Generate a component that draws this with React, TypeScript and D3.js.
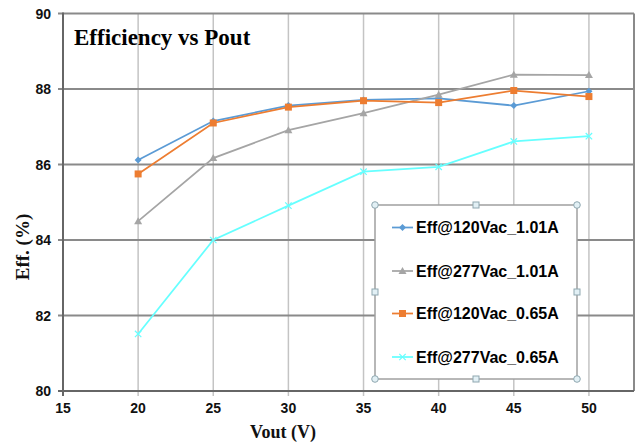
import React from "react";
import * as d3 from "d3";

const vout = [20, 25, 30, 35, 40, 45, 50];
const eff120_101 = [86.12, 87.15, 87.56, 87.71, 87.75, 87.56, 87.94];
const eff277_101 = [84.5, 86.17, 86.91, 87.36, 87.85, 88.38, 88.37];
const eff120_065 = [85.75, 87.1, 87.52, 87.69, 87.64, 87.96, 87.8];
const eff277_065 = [81.51, 84.0, 84.91, 85.81, 85.94, 86.61, 86.75];
const seriesNames = ["Eff@120Vac_1.01A", "Eff@277Vac_1.01A", "Eff@120Vac_0.65A", "Eff@277Vac_0.65A"];
const xTicks = [15, 20, 25, 30, 35, 40, 45, 50];
const yTicks = [80, 82, 84, 86, 88, 90];

const W = 636, H = 448;
const L = 63, R = 634, T = 13.5, B = 391;

const series = [
  { name: seriesNames[0], values: eff120_101, color: "#5b9bd5", marker: "diamond" },
  { name: seriesNames[1], values: eff277_101, color: "#a5a5a5", marker: "triangle" },
  { name: seriesNames[2], values: eff120_065, color: "#ed7d31", marker: "square" },
  { name: seriesNames[3], values: eff277_065, color: "#66ffff", marker: "x" },
];

function Marker({ type, x, y, color }: { type: string; x: number; y: number; color: string }) {
  if (type === "diamond") {
    const s = 3.5;
    return <path d={`M${x},${y - s}L${x + s},${y}L${x},${y + s}L${x - s},${y}Z`} fill={color} />;
  }
  if (type === "square") {
    const s = 3.5;
    return <rect x={x - s} y={y - s} width={2 * s} height={2 * s} fill={color} />;
  }
  if (type === "triangle") {
    const s = 4;
    return <path d={`M${x},${y - s}L${x + s},${y + s * 0.75}L${x - s},${y + s * 0.75}Z`} fill={color} />;
  }
  const s = 3.2;
  return (
    <path d={`M${x - s},${y - s}L${x + s},${y + s}M${x - s},${y + s}L${x + s},${y - s}`} stroke={color} strokeWidth={1.2} />
  );
}

export default function App() {
  const x = d3.scaleLinear().domain([15, 53]).range([L, R]);
  const y = d3.scaleLinear().domain([80, 90]).range([B, T]);
  const line = d3
    .line<[number, number]>()
    .x((d) => x(d[0]))
    .y((d) => y(d[1]));

  const lg = { x0: 375, x1: 577, y0: 205, y1: 379 };
  const legendYs = [227.5, 271, 313.5, 357];
  const sansBold = { fontFamily: "'Liberation Sans', Arial, sans-serif", fontWeight: 700 } as const;
  const serifBold = { fontFamily: "'Liberation Serif', 'Times New Roman', serif", fontWeight: 700 } as const;

  const handleCircles = [
    [lg.x0, lg.y0], [lg.x1, lg.y0], [lg.x0, lg.y1], [lg.x1, lg.y1],
  ];
  const handleSquares = [
    [(lg.x0 + lg.x1) / 2, lg.y0], [(lg.x0 + lg.x1) / 2, lg.y1], [lg.x0, (lg.y0 + lg.y1) / 2], [lg.x1, (lg.y0 + lg.y1) / 2],
  ];

  return (
    <div style={{ position: "fixed", left: 0, top: 0 }}>
      <svg width={W} height={H} style={{ display: "block", background: "#fff" }}>
        <rect x={0} y={0} width={W} height={H} fill="#fff" />
        {/* vertical grid */}
        {xTicks.filter((t) => t !== 15).map((t) => (
          <line key={"vg" + t} x1={x(t)} x2={x(t)} y1={T} y2={B + 5} stroke="#c4c4c4" strokeWidth={1.5} />
        ))}
        {/* horizontal grid */}
        {yTicks.filter((t) => t !== 80 && t !== 90).map((t) => (
          <line key={"hg" + t} x1={L - 5} x2={R} y1={y(t)} y2={y(t)} stroke="#8a8a8a" strokeWidth={2} />
        ))}
        {/* frame */}
        <line x1={L - 5} x2={R} y1={T} y2={T} stroke="#8a8a8a" strokeWidth={2} />
        <line x1={R} x2={R} y1={T} y2={B} stroke="#8a8a8a" strokeWidth={2} />
        <line x1={L - 5} x2={R} y1={B} y2={B} stroke="#666" strokeWidth={2} />
        <line x1={L} x2={L} y1={T - 1} y2={B + 5} stroke="#666" strokeWidth={2} />
        {/* y tick labels */}
        {yTicks.map((t) => (
          <text key={"yl" + t} x={51} y={y(t)} dy="0.36em" textAnchor="end" fontSize={14} fill="#111" style={sansBold}>
            {t}
          </text>
        ))}
        {/* x tick labels */}
        {xTicks.map((t) => (
          <text key={"xl" + t} x={x(t)} y={413} textAnchor="middle" fontSize={14} fill="#111" style={sansBold}>
            {t}
          </text>
        ))}
        {/* series */}
        {series.map((s) => {
          const pts = vout.map((v, i) => [v, s.values[i]] as [number, number]);
          return (
            <g key={s.name}>
              <path d={line(pts) || ""} fill="none" stroke={s.color} strokeWidth={1.75} />
              {pts.map((p, i) => (
                <Marker key={i} type={s.marker} x={x(p[0])} y={y(p[1])} color={s.color} />
              ))}
            </g>
          );
        })}
        {/* title */}
        <text x={74} y={45} fontSize={23} fill="#000" style={serifBold}>
          Efficiency vs Pout
        </text>
        {/* axis titles */}
        <text x={283} y={438} textAnchor="middle" fontSize={18} fill="#111" style={serifBold}>
          Vout (V)
        </text>
        <text transform="translate(29,247) rotate(-90)" textAnchor="middle" fontSize={19} fill="#111" style={serifBold}>
          Eff. (%)
        </text>
        {/* legend */}
        <rect x={lg.x0} y={lg.y0} width={lg.x1 - lg.x0} height={lg.y1 - lg.y0} fill="#fff" stroke="#a0a0a0" strokeWidth={1.5} />
        {series.map((s, i) => (
          <g key={"lg" + i}>
            <line x1={392} x2={413} y1={legendYs[i]} y2={legendYs[i]} stroke={s.color} strokeWidth={1.75} />
            <Marker type={s.marker} x={402.5} y={legendYs[i]} color={s.color} />
            <text x={416} y={legendYs[i]} dy="0.36em" fontSize={16} fill="#000" style={sansBold}>
              {s.name}
            </text>
          </g>
        ))}
        {handleCircles.map((c, i) => (
          <circle key={"hc" + i} cx={c[0]} cy={c[1]} r={3.3} fill="#e2f0f5" stroke="#8fa7b0" strokeWidth={1} />
        ))}
        {handleSquares.map((c, i) => (
          <rect key={"hs" + i} x={c[0] - 3} y={c[1] - 3} width={6} height={6} fill="#e2f0f5" stroke="#8fa7b0" strokeWidth={1} />
        ))}
      </svg>
    </div>
  );
}
